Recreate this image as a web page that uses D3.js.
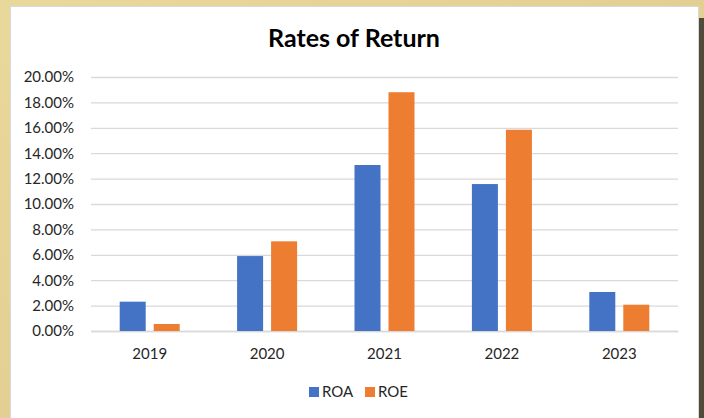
<!DOCTYPE html>
<html>
<head>
<meta charset="utf-8">
<script src="https://cdn.jsdelivr.net/npm/d3@7"></script>
<style>
  html, body { margin: 0; padding: 0; background: #e6d49a; }
  svg { display: block; }
</style>
</head>
<body>
<div id="chart"></div>
<script>
// Chart data
const years = ["2019", "2020", "2021", "2022", "2023"];
const roa = [0.0231, 0.0590, 0.1307, 0.1157, 0.0307];
const roe = [0.0055, 0.0706, 0.1880, 0.1585, 0.0207];
const seriesNames = ["ROA", "ROE"];
const seriesColors = ["#4472C4", "#ED7D31"];
const yTicks = [0, 0.02, 0.04, 0.06, 0.08, 0.10, 0.12, 0.14, 0.16, 0.18, 0.20];

const W = 704, H = 418;
const plot = { left: 91, right: 678, top: 77, bottom: 331 };
const font = "Lato, 'Open Sans', sans-serif";

const svg = d3.select("#chart").append("svg")
    .attr("width", W)
    .attr("height", H);

// Parchment background
const defs = svg.append("defs");
const grad = defs.append("linearGradient").attr("id", "bg")
    .attr("x1", 0).attr("y1", 0).attr("x2", 1).attr("y2", 1);
grad.append("stop").attr("offset", "0%").attr("stop-color", "#e9d89c");
grad.append("stop").attr("offset", "50%").attr("stop-color", "#e3cf92");
grad.append("stop").attr("offset", "100%").attr("stop-color", "#ecdcaa");
svg.append("rect").attr("width", W).attr("height", H).attr("fill", "url(#bg)");

// dark edge on the right
svg.append("rect")
    .attr("x", 699).attr("y", 18).attr("width", 5).attr("height", H)
    .attr("fill", "#4f4a3a");

// Chart area
svg.append("rect")
    .attr("x", 10.5).attr("y", 6.5)
    .attr("width", 688).attr("height", 430)
    .attr("fill", "#ffffff")
    .attr("stroke", "#d9d9d9");

// Title
svg.append("text")
    .attr("x", 354).attr("y", 47)
    .attr("text-anchor", "middle")
    .style("font-family", font)
    .style("font-weight", "bold")
    .style("font-size", "25px")
    .style("fill", "#000")
    .text("Rates of Return");

// Scales
const x0 = d3.scaleBand()
    .domain(years)
    .range([plot.left, plot.right]);

const x1 = d3.scaleBand()
    .domain(seriesNames)
    .range([0, 60])
    .paddingInner(8 / 34);

const y = d3.scaleLinear()
    .domain([0, 0.2])
    .range([plot.bottom, plot.top]);

// Y axis with gridlines
svg.append("g")
    .attr("transform", `translate(${plot.left},0)`)
    .call(d3.axisLeft(y)
        .tickValues(yTicks)
        .tickFormat(d3.format(".2%"))
        .tickSize(-(plot.right - plot.left))
        .tickPadding(17))
    .call(g => g.select(".domain").remove())
    .call(g => g.selectAll(".tick line").attr("stroke", "#d9d9d9").attr("stroke-width", 1.3))
    .call(g => g.selectAll(".tick text")
        .style("font-family", font)
        .style("font-size", "15px")
        .style("fill", "#262626"));

// X axis labels
svg.append("g")
    .attr("transform", `translate(0,${plot.bottom})`)
    .call(d3.axisBottom(x0).tickSize(0).tickPadding(17))
    .call(g => g.select(".domain").attr("stroke", "#d9d9d9").attr("stroke-width", 1.3))
    .call(g => g.selectAll(".tick text")
        .style("font-family", font)
        .style("font-size", "15px")
        .style("fill", "#262626"));

// Bars
const rows = years.map((yr, i) => ({ year: yr, values: [roa[i], roe[i]] }));

const groups = svg.append("g").selectAll("g")
    .data(rows)
    .join("g")
    .attr("transform", d => `translate(${x0(d.year) + x0.bandwidth() / 2 - 30},0)`);

groups.selectAll("rect")
    .data(d => d.values.map((v, j) => ({ name: seriesNames[j], value: v, color: seriesColors[j] })))
    .join("rect")
    .attr("x", d => x1(d.name))
    .attr("y", d => y(d.value))
    .attr("width", x1.bandwidth())
    .attr("height", d => y(0) - y(d.value))
    .attr("fill", d => d.color);

// Legend
const legend = svg.append("g").attr("transform", "translate(309,387)");
const legendX = [0, 56];
seriesNames.forEach((name, i) => {
    legend.append("rect")
        .attr("x", legendX[i]).attr("y", 0)
        .attr("width", 10).attr("height", 10)
        .attr("fill", seriesColors[i]);
    legend.append("text")
        .attr("x", legendX[i] + 13).attr("y", 10)
        .style("font-family", font)
        .style("font-size", "15px")
        .style("fill", "#262626")
        .text(name);
});
</script>
</body>
</html>
